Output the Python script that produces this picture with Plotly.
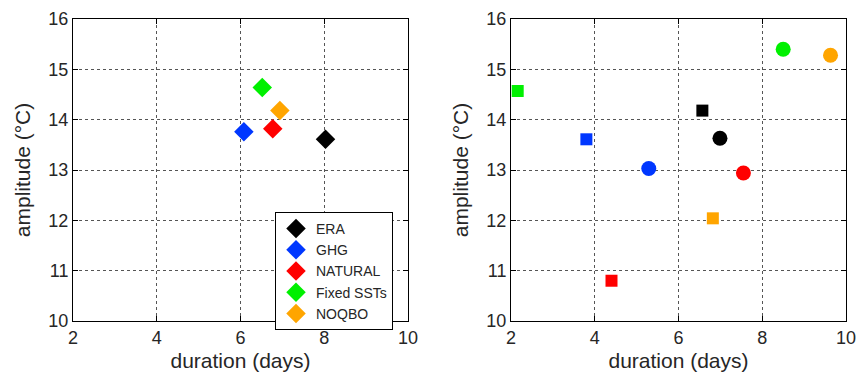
import plotly.graph_objects as go

names = ["ERA", "GHG", "NATURAL", "Fixed SSTs", "NOQBO"]
colors = ["#000000", "#0037FF", "#FF0000", "#00F000", "#FFA500"]

# left panel (diamonds)
left_dur = [8.03, 6.08, 6.77, 6.52, 6.94]
left_amp = [13.61, 13.76, 13.82, 14.64, 14.18]

# right panel circles
circ_dur = [6.99, 5.29, 7.55, 8.50, 9.63]
circ_amp = [13.63, 13.03, 12.94, 15.40, 15.28]

# right panel squares
sq_dur = [6.57, 3.80, 4.40, 2.16, 6.82]
sq_amp = [14.18, 13.61, 10.80, 14.57, 12.04]

x_ticks = [2, 4, 6, 8, 10]
y_ticks = [10, 11, 12, 13, 14, 15, 16]

W, H = 856, 368  # page body has an 8px margin
T, B = 11, 55
PH = H - T - B

fig = go.Figure()
for i, n in enumerate(names):
    fig.add_trace(go.Scatter(x=[left_dur[i]], y=[left_amp[i]], mode="markers", name=n,
                             marker=dict(symbol="diamond", size=15, color=colors[i]),
                             xaxis="x", yaxis="y", showlegend=True))
for i, n in enumerate(names):
    fig.add_trace(go.Scatter(x=[circ_dur[i]], y=[circ_amp[i]], mode="markers", name=n,
                             marker=dict(symbol="circle", size=15, color=colors[i]),
                             xaxis="x2", yaxis="y2", showlegend=False))
    fig.add_trace(go.Scatter(x=[sq_dur[i]], y=[sq_amp[i]], mode="markers", name=n,
                             marker=dict(symbol="square", size=12, color=colors[i]),
                             xaxis="x2", yaxis="y2", showlegend=False))

font = dict(family="Liberation Sans, Arial, sans-serif", color="#262626")
axis_common = dict(
    showline=True, linecolor="black", linewidth=1, mirror="ticks",
    ticks="inside", ticklen=5, tickcolor="black",
    showgrid=True, gridcolor="#555", griddash="dot", gridwidth=1,
    zeroline=False, tickfont=dict(size=18, **font), automargin=False,
    ticklabeloverflow="allow",
)
xa = dict(axis_common, range=[2, 10], tickvals=x_ticks,
          title=dict(text="duration (days)", font=dict(size=21, **font), standoff=6))
ya = dict(axis_common, range=[10, 16], tickvals=y_ticks,
          title=dict(text="amplitude (°C)", font=dict(size=21, **font), standoff=12))

fig.update_layout(
    width=W, height=H,
    margin=dict(l=0, r=0, t=T, b=B, autoexpand=False),
    paper_bgcolor="white", plot_bgcolor="white",
    xaxis=dict(xa, domain=[65/W, 400/W], anchor="y"),
    yaxis=dict(ya, domain=[0, 1], anchor="x"),
    xaxis2=dict(xa, domain=[503/W, 838/W], anchor="y2"),
    yaxis2=dict(ya, domain=[0, 1], anchor="x2"),
    legend=dict(x=267/W, y=(H - B - 204)/PH, xanchor="left", yanchor="top",
                bgcolor="white", bordercolor="black", borderwidth=1,
                font=dict(size=14, **font), tracegroupgap=0, itemsizing="trace"),
    showlegend=True,
    font=font,
)

fig.write_html("out.html")
